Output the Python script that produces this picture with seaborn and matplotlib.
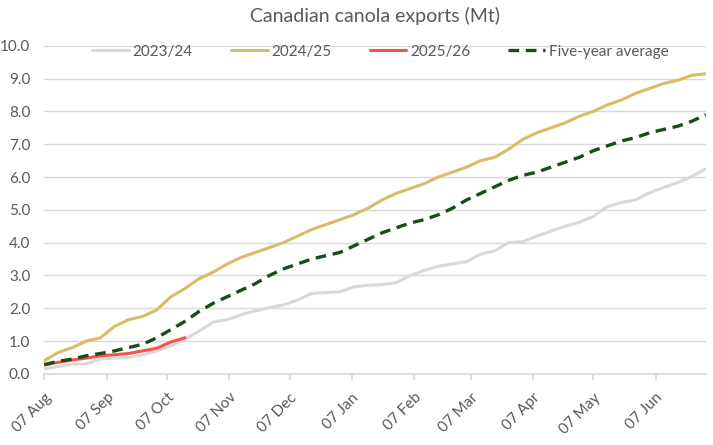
import pandas as pd
import numpy as np
import matplotlib
matplotlib.use("Agg")
import matplotlib.pyplot as plt
import matplotlib.dates as mdates
import seaborn as sns

# Weekly cumulative exports (Mt), weeks starting 07 Aug
start_date = "2025-08-07"
exports_2023_24 = [0.15, 0.22, 0.3, 0.3, 0.45, 0.48, 0.5, 0.58, 0.7, 0.85,
                   1.05, 1.3, 1.58, 1.65, 1.8, 1.92, 2.02, 2.1, 2.25, 2.45,
                   2.48, 2.5, 2.65, 2.7, 2.72, 2.78, 3.0, 3.15, 3.28, 3.35,
                   3.42, 3.65, 3.75, 4.0, 4.03, 4.2, 4.35, 4.5, 4.62, 4.8,
                   5.1, 5.22, 5.3, 5.52, 5.68, 5.83, 6.02, 6.25]
exports_2024_25 = [0.4, 0.65, 0.8, 1.0, 1.1, 1.45, 1.65, 1.75, 1.95, 2.35,
                   2.6, 2.9, 3.1, 3.35, 3.55, 3.7, 3.85, 4.0, 4.2, 4.4,
                   4.55, 4.7, 4.85, 5.05, 5.3, 5.5, 5.65, 5.8, 6.0, 6.15,
                   6.3, 6.5, 6.6, 6.85, 7.15, 7.35, 7.5, 7.65, 7.85, 8.0,
                   8.2, 8.35, 8.55, 8.7, 8.85, 8.95, 9.1, 9.15]
exports_2025_26 = [0.27, 0.35, 0.42, 0.48, 0.55, 0.58, 0.62, 0.7, 0.78, 0.97, 1.1]
five_year_avg = [0.28, 0.38, 0.45, 0.55, 0.62, 0.7, 0.8, 0.9, 1.1, 1.35,
                 1.6, 1.9, 2.15, 2.35, 2.55, 2.75, 3.0, 3.2, 3.35, 3.5,
                 3.6, 3.7, 3.9, 4.1, 4.3, 4.45, 4.6, 4.7, 4.85, 5.05,
                 5.3, 5.5, 5.7, 5.9, 6.05, 6.15, 6.3, 6.45, 6.6, 6.8,
                 6.95, 7.1, 7.2, 7.35, 7.45, 7.55, 7.7, 7.9]

weeks = pd.date_range(start_date, periods=len(exports_2024_25), freq="7D")

sns.set_theme(style="white")
plt.rcParams["font.family"] = ["Lato", "DejaVu Sans"]
text_col = "#595959"
grid_col = "#D9D9D9"

fig, ax = plt.subplots(figsize=(7.13, 4.45), dpi=100)
fig.subplots_adjust(left=0.062, right=0.990, bottom=0.16, top=0.897)

ax.yaxis.grid(True, color=grid_col, linewidth=1)
ax.set_axisbelow(True)

sns.lineplot(x=weeks, y=exports_2023_24, ax=ax, color="#D9D9D9", linewidth=2.2, label="2023/24")
sns.lineplot(x=weeks, y=exports_2024_25, ax=ax, color="#D9BC67", linewidth=2.2, label="2024/25")
sns.lineplot(x=weeks[:len(exports_2025_26)], y=exports_2025_26, ax=ax, color="#F4554A",
             linewidth=2.2, label="2025/26")
sns.lineplot(x=weeks, y=five_year_avg, ax=ax, color="#1B4A1B", linewidth=2.4,
             linestyle=(0, (3.2, 2.0)), label="Five-year average")

ax.set_ylim(0, 10)
ax.set_yticks(np.arange(0, 10.1, 1.0))
ax.yaxis.set_major_formatter(matplotlib.ticker.FormatStrFormatter("%.1f"))
ax.set_xlim(weeks[0], weeks[-1])
ax.xaxis.set_major_locator(mdates.MonthLocator(bymonthday=7))
ax.xaxis.set_major_formatter(mdates.DateFormatter("%d %b"))

for s in ["top", "right", "left"]:
    ax.spines[s].set_visible(False)
ax.spines["bottom"].set_color(grid_col)
ax.tick_params(axis="x", colors=text_col, labelsize=11, length=4, color=grid_col,
               direction="out", bottom=True, labelrotation=45, pad=8)
ax.tick_params(axis="y", colors=text_col, labelsize=11, length=0, pad=10)
for lbl in ax.get_xticklabels():
    lbl.set_ha("right")
    lbl.set_rotation_mode("anchor")
ax.set_xlabel("")
ax.set_ylabel("")

ax.set_title("Canadian canola exports (Mt)", color=text_col, fontsize=14, pad=17)
ax.legend(loc="upper center", bbox_to_anchor=(0.508, 1.045), ncol=4, frameon=False,
          fontsize=11, labelcolor=text_col, handlelength=2.4, handletextpad=0.25,
          columnspacing=2.5)

fig.savefig("out.png", dpi=100)
